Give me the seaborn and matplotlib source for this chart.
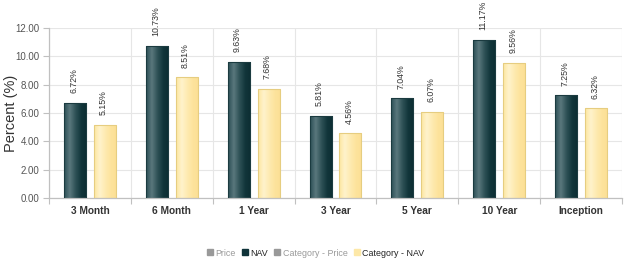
import numpy as np
import pandas as pd
import matplotlib
matplotlib.use("Agg")
import matplotlib.pyplot as plt
import seaborn as sns
from matplotlib.colors import LinearSegmentedColormap
from matplotlib.lines import Line2D

categories = ["3 Month", "6 Month", "1 Year", "3 Year", "5 Year", "10 Year", "Inception"]
nav = [6.72, 10.73, 9.63, 5.81, 7.04, 11.17, 7.25]
category_nav = [5.15, 8.51, 7.68, 4.56, 6.07, 9.56, 6.32]
series_names = ["NAV", "Category - NAV"]
y_ticks = [0, 2, 4, 6, 8, 10, 12]

df = pd.DataFrame({
    "period": categories * 2,
    "value": nav + category_nav,
    "series": [series_names[0]] * len(categories) + [series_names[1]] * len(categories),
})

sns.set_theme(style="white")
plt.rcParams["font.family"] = ["Liberation Sans", "DejaVu Sans"]

fig = plt.figure(figsize=(6.4, 2.64), dpi=100)
ax = fig.add_axes([49 / 640, 1 - 198 / 264, 573 / 640, 170 / 264])

pal = {"NAV": "#173f45", "Category - NAV": "#fde8a8"}
sns.barplot(data=df, x="period", y="value", hue="series", order=categories,
            hue_order=series_names, palette=pal, width=0.73, gap=0.26,
            saturation=1, legend=False, ax=ax, zorder=3)

# gradient fills + edges
cm_dark = LinearSegmentedColormap.from_list("d", ["#2c4f55", "#5a787d", "#2f5257", "#12363b", "#0c2d32"])
cm_light = LinearSegmentedColormap.from_list("l", ["#fde6a0", "#fff3cc", "#feeab0", "#fde39c", "#fcdf95"])
grad = np.linspace(0, 1, 64).reshape(1, -1)
values = nav + category_nav
for i, bar in enumerate(ax.patches):
    is_nav = i < len(categories)
    x0, y0 = bar.get_x(), bar.get_y()
    w, h = bar.get_width(), bar.get_height()
    bar.set_facecolor("none")
    bar.set_edgecolor("#1b3b40" if is_nav else "#e6cd80")
    bar.set_linewidth(0.8)
    im = ax.imshow(grad, aspect="auto", cmap=cm_dark if is_nav else cm_light,
                   extent=[x0, x0 + w, y0, y0 + h], zorder=2.5, interpolation="bilinear")
    im.set_clip_path(bar)
    ax.annotate(f"{values[i]:.2f}%", (x0 + w / 2, y0 + h),
                xytext=(-1, 7), textcoords="offset points", rotation=90,
                ha="center", va="bottom", fontsize=6.3, color="#333333", zorder=4)

ax.set_xlim(-0.5, len(categories) - 0.5)
ax.set_ylim(0, 12)
ax.set_yticks(y_ticks)
ax.set_yticklabels([f"{v:.2f}" for v in y_ticks])
ax.set_xticks(range(len(categories)))
ax.set_xticklabels(categories, fontweight="bold")
ax.set_xticks(np.arange(-0.5, len(categories), 1.0), minor=True)
ax.set_xlabel("")
ax.set_ylabel("Percent (%)", fontsize=10.5, color="#333333")
ax.yaxis.set_label_coords(-31 / 573, 0.5)

ax.grid(axis="y", which="major", color="#e6e6e6", lw=0.8, zorder=0)
ax.grid(axis="x", which="minor", color="#e6e6e6", lw=0.8, zorder=0)
ax.grid(axis="x", which="major", visible=False)
for s in ["top", "right"]:
    ax.spines[s].set_visible(False)
for s in ["left", "bottom"]:
    ax.spines[s].set_color("#c0c0c0")
    ax.spines[s].set_linewidth(0.9)

ax.tick_params(axis="y", which="major", length=4, width=0.8, color="#c0c0c0",
               labelsize=7, labelcolor="#555555", pad=3, left=True)
ax.tick_params(axis="x", which="major", length=0, labelsize=7.3, labelcolor="#333333", pad=6)
ax.tick_params(axis="x", which="minor", length=4, width=0.8, color="#c0c0c0", bottom=True)

handles = [
    Line2D([], [], marker="s", ls="", color="#999999", markersize=4.5),
    Line2D([], [], marker="s", ls="", color="#0f3339", markersize=4.5),
    Line2D([], [], marker="s", ls="", color="#999999", markersize=4.5),
    Line2D([], [], marker="s", ls="", color="#fde8a8", markersize=4.5),
]
labels = ["Price", "NAV", "Category - Price", "Category - NAV"]
leg = fig.legend(handles, labels, loc="center", bbox_to_anchor=(0.492, 1 - 253 / 264),
                 ncol=4, frameon=False, fontsize=6.4, handletextpad=0.15,
                 columnspacing=0.5, handlelength=1.0)
for t, c in zip(leg.get_texts(), ["#999999", "#222222", "#999999", "#222222"]):
    t.set_color(c)

fig.savefig("out.png", dpi=100)
